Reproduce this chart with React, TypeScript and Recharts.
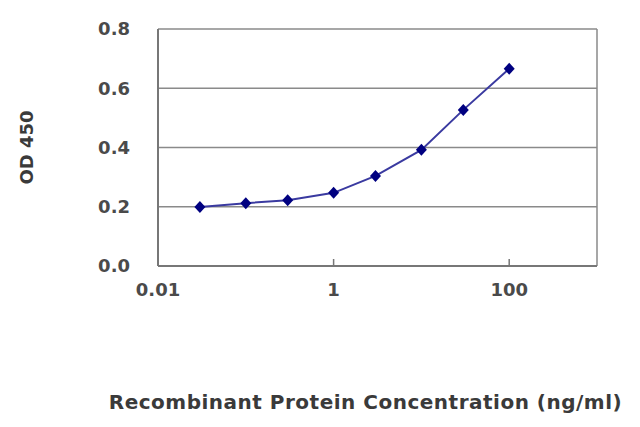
import React from 'react';
import { LineChart, Line, XAxis, YAxis, CartesianGrid, ReferenceLine, Label } from 'recharts';

const concentrations = [0.03, 0.1, 0.3, 1, 3, 10, 30, 100];
const odValues = [0.199, 0.212, 0.222, 0.247, 0.304, 0.392, 0.527, 0.666];
const xTicks = [0.01, 1, 100];
const yTicks = [0, 0.2, 0.4, 0.6, 0.8];

const data = concentrations.map((c, i) => ({ conc: c, od: odValues[i] }));

const TEXT = '#4a4a4a';
const FONT = '"DejaVu Sans", Arial, sans-serif';

const Diamond = (props: any) => {
  const { cx, cy } = props;
  if (cx == null || cy == null) return null;
  return (
    <polygon
      points={`${cx},${cy - 6} ${cx + 5.5},${cy} ${cx},${cy + 6} ${cx - 5.5},${cy}`}
      fill="#000080"
    />
  );
};

const App: React.FC = () => {
  return (
    <div style={{ position: 'absolute', left: 0, top: 0, background: '#fff', fontFamily: FONT }}>
      <LineChart width={640} height={427} data={data} margin={{ top: 29, right: 43, left: 0, bottom: 121 }}>
        <CartesianGrid vertical={false} stroke="#8a8a8a" strokeWidth={1.5} />
        <XAxis
          dataKey="conc"
          type="number"
          scale="log"
          domain={[0.01, 1000]}
          ticks={xTicks}
          allowDataOverflow
          height={40}
          stroke="#777"
          strokeWidth={2}
          tickLine={{ stroke: '#777', strokeWidth: 1.5 }}
          tickSize={-7}
          tickMargin={24}
          tick={{ fill: TEXT, fontSize: 18, fontWeight: 'bold', fontFamily: FONT }}
          tickFormatter={(v: number) => String(v)}
        >
          <Label
            value="Recombinant Protein Concentration (ng/ml)"
            position="bottom"
            offset={89}
            dx={-12}
            style={{ fill: '#3a3a3a', fontSize: 20, fontWeight: 'bold', letterSpacing: 0.5, fontFamily: FONT }}
          />
        </XAxis>
        <YAxis
          type="number"
          domain={[0, 0.8]}
          ticks={yTicks}
          width={158}
          stroke="#777"
          strokeWidth={2}
          tickLine={false}
          tickSize={0}
          tickMargin={28}
          tick={{ fill: TEXT, fontSize: 18, fontWeight: 'bold', fontFamily: FONT }}
          tickFormatter={(v: number) => v.toFixed(1)}
        >
          <Label
            value="OD 450"
            angle={-90}
            position="insideLeft"
            offset={27}
            style={{ fill: '#3a3a3a', fontSize: 18, fontWeight: 'bold', fontFamily: FONT, textAnchor: 'middle' }}
          />
        </YAxis>
        <ReferenceLine x={1000} stroke="#8a8a8a" strokeWidth={1.5} ifOverflow="visible" />
        <Line
          dataKey="od"
          stroke="#3a3aa0"
          strokeWidth={2}
          dot={<Diamond />}
          activeDot={false}
          isAnimationActive={false}
        />
      </LineChart>
    </div>
  );
};

export default App;
